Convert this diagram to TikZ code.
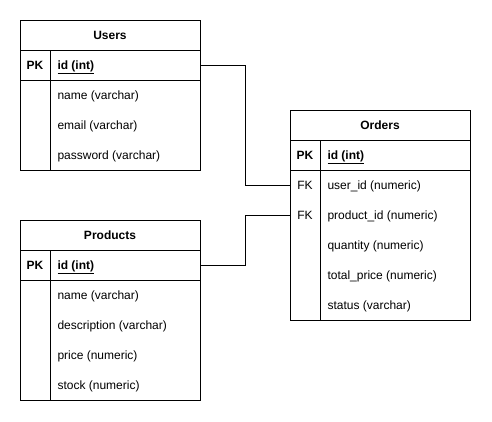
\documentclass[tikz,border=0pt]{standalone}
\usepackage{fontspec}
\setmainfont{Liberation Sans}
\begin{document}
\begin{tikzpicture}[x=1pt,y=-1pt,line width=1pt,
  font=\fontsize{12}{14}\selectfont,
  hdr/.style={draw,minimum width=180pt,minimum height=30pt,inner sep=0pt,font=\fontsize{12}{14}\selectfont\bfseries},
  rowbox/.style={minimum width=180pt,minimum height=30pt,inner sep=0pt},
  keytxt/.style={anchor=base,inner sep=0pt},
  fldtxt/.style={anchor=base west,inner sep=0pt},
  conn/.style={line width=1pt}]
\useasboundingbox (0,0) rectangle (492,421);
\fill[white] (0,0) rectangle (492,421);
% ---------- Users ----------
\node[hdr] (uh) at (110,35) {Users};
\node[rowbox,draw] (upk) at (110,65) {};
\node[rowbox] (ur1) at (110,95) {};
\node[rowbox] (ur2) at (110,125) {};
\node[rowbox] (ur3) at (110,155) {};
\draw (20,80) rectangle (200,170);
\draw (50,50) -- (50,170);
\node[keytxt,font=\fontsize{12}{14}\selectfont\bfseries] (upkk) at (35,69) {PK};
\node[fldtxt,font=\fontsize{12}{14}\selectfont\bfseries] (upkf) at (57,69) {\underline{id (int)}};
\node[fldtxt] (uf1) at (57,99) {name (varchar)};
\node[fldtxt] (uf2) at (57,129) {email (varchar)};
\node[fldtxt] (uf3) at (57,159) {password (varchar)};
% ---------- Products ----------
\node[hdr] (ph) at (110,235) {Products};
\node[rowbox,draw] (ppk) at (110,265) {};
\draw (20,280) rectangle (200,400);
\draw (50,250) -- (50,400);
\node[keytxt,font=\fontsize{12}{14}\selectfont\bfseries] (ppkk) at (35,269) {PK};
\node[fldtxt,font=\fontsize{12}{14}\selectfont\bfseries] (ppkf) at (57,269) {\underline{id (int)}};
\node[fldtxt] (pf1) at (57,299) {name (varchar)};
\node[fldtxt] (pf2) at (57,329) {description (varchar)};
\node[fldtxt] (pf3) at (57,359) {price (numeric)};
\node[fldtxt] (pf4) at (57,389) {stock (numeric)};
% ---------- Orders ----------
\node[hdr] (oh) at (380,125) {Orders};
\node[rowbox,draw] (opk) at (380,155) {};
\node[rowbox] (ofk1) at (380,185) {};
\node[rowbox] (ofk2) at (380,215) {};
\draw (290,170) rectangle (470,320);
\draw (320,140) -- (320,320);
\node[keytxt,font=\fontsize{12}{14}\selectfont\bfseries] (opkk) at (305,159) {PK};
\node[fldtxt,font=\fontsize{12}{14}\selectfont\bfseries] (opkf) at (327,159) {\underline{id (int)}};
\node[keytxt] (ofk1k) at (305,189) {FK};
\node[fldtxt] (of1) at (327,189) {user\_id (numeric)};
\node[keytxt] (ofk2k) at (305,219) {FK};
\node[fldtxt] (of2) at (327,219) {product\_id (numeric)};
\node[fldtxt] (of3) at (327,249) {quantity (numeric)};
\node[fldtxt] (of4) at (327,279) {total\_price (numeric)};
\node[fldtxt] (of5) at (327,309) {status (varchar)};
% ---------- Connectors ----------
\draw[conn] (upk.east) -- ++(45,0) |- (ofk1.west);
\draw[conn] (ppk.east) -- ++(45,0) |- (ofk2.west);
\end{tikzpicture}
\end{document}
